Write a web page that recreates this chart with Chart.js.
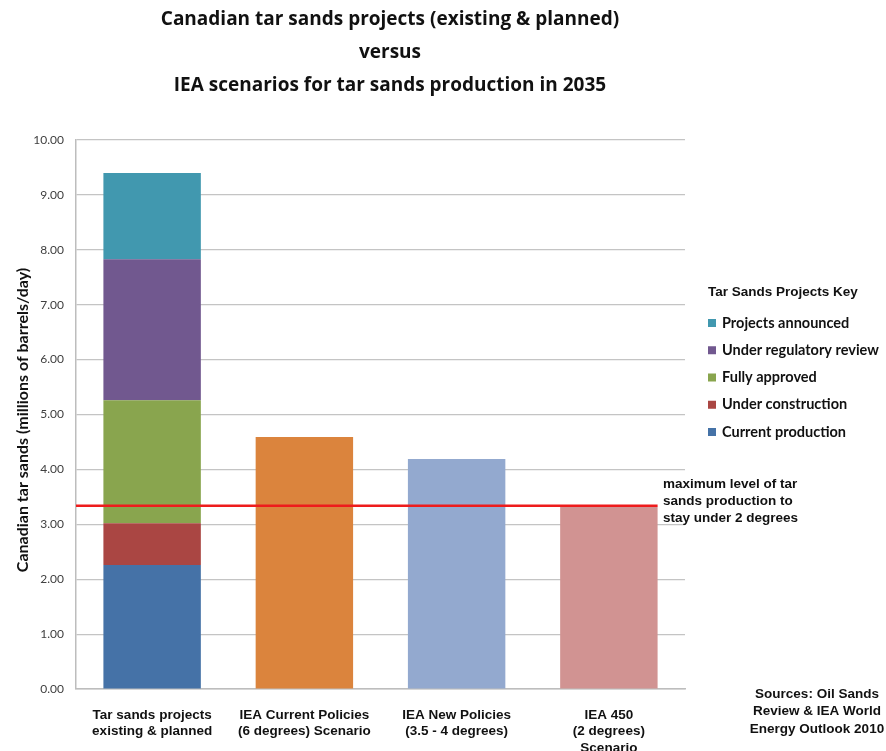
<!DOCTYPE html>
<html>
<head>
<meta charset="utf-8">
<script src="https://cdn.jsdelivr.net/npm/chart.js@4"></script>
<style>
  html, body { margin: 0; padding: 0; background: #fff; }
  #wrap { width: 886px; height: 751px; position: relative; }
</style>
</head>
<body>
<div id="wrap"><canvas id="chart"></canvas></div>
<script>
const categories = [
  ['Tar sands projects', 'existing & planned'],
  ['IEA Current Policies', '(6 degrees) Scenario'],
  ['IEA New Policies', '(3.5 - 4 degrees)'],
  ['IEA 450', '(2 degrees)', 'Scenario']
];

// stacked pieces of the first bar, bottom to top
const segmentNames = ['Current production', 'Under construction', 'Fully approved', 'Under regulatory review', 'Projects announced'];
const segmentValues = [2.26, 0.76, 2.24, 2.57, 1.57];
const segmentColors = ['#4572A7', '#AA4643', '#89A54E', '#71588F', '#4198AF'];

// IEA 2035 scenarios
const scenarioValues = [null, 4.59, 4.19, 3.32];
const scenarioColors = ['#ffffff', '#DB843D', '#93A9CF', '#D19392'];

const twoDegreeLimit = 3.34;
const yTicks = [0, 1, 2, 3, 4, 5, 6, 7, 8, 9, 10];

const titleLines = [
  'Canadian tar sands projects (existing & planned)',
  'versus',
  'IEA scenarios for tar sands production in 2035'
];
const limitNote = ['maximum level of tar', 'sands production to', 'stay under 2 degrees'];
const sourceNote = ['Sources: Oil Sands', 'Review & IEA World', 'Energy Outlook 2010'];

const datasets = segmentNames.map((name, i) => ({
  label: name,
  data: [segmentValues[i], null, null, null],
  backgroundColor: segmentColors[i]
}));
datasets.push({
  label: 'Scenario',
  data: scenarioValues,
  backgroundColor: scenarioColors
});

const extras = {
  id: 'extras',
  afterDatasetsDraw(chart) {
    const ctx = chart.ctx;
    const area = chart.chartArea;
    const y = chart.scales.y;

    // 2 degree limit line
    const lastBar = chart.getDatasetMeta(datasets.length - 1).data[3];
    const ly = y.getPixelForValue(twoDegreeLimit);
    ctx.save();
    ctx.strokeStyle = '#ee1c1c';
    ctx.lineWidth = 2.5;
    ctx.beginPath();
    ctx.moveTo(area.left, ly);
    ctx.lineTo(lastBar.x + lastBar.width / 2, ly);
    ctx.stroke();
    ctx.restore();
  },
  afterDraw(chart) {
    const ctx = chart.ctx;
    ctx.save();
    ctx.fillStyle = '#111';
    ctx.textBaseline = 'middle';

    // title
    ctx.textAlign = 'center';
    ctx.font = 'bold 19px "Open Sans"';
    ctx.fillText(titleLines[0], 390, 20);
    ctx.fillText(titleLines[1], 390, 53);
    ctx.fillText(titleLines[2], 390, 86);

    // y axis title
    ctx.save();
    ctx.translate(23, 420);
    ctx.rotate(-Math.PI / 2);
    ctx.font = 'bold 16px Lato';
    ctx.fillText('Canadian tar sands (millions of barrels/day)', 0, 0);
    ctx.restore();

    // legend
    ctx.textAlign = 'left';
    ctx.font = 'bold 13.5px "Liberation Sans"';
    ctx.fillText('Tar Sands Projects Key', 708, 292);
    ctx.font = 'bold 14.5px Lato';
    for (let i = segmentNames.length - 1, row = 0; i >= 0; i--, row++) {
      const ry = 323 + row * 27.25;
      ctx.fillStyle = segmentColors[i];
      ctx.fillRect(708, ry - 4, 8, 8);
      ctx.fillStyle = '#111';
      ctx.fillText(segmentNames[i], 722, ry);
    }

    // limit note
    ctx.font = 'bold 13.5px "Liberation Sans"';
    limitNote.forEach((t, i) => ctx.fillText(t, 663, 484 + i * 17));

    // sources
    ctx.textAlign = 'center';
    sourceNote.forEach((t, i) => ctx.fillText(t, 817, 694 + i * 17.5));
    ctx.restore();
  }
};

new Chart(document.getElementById('chart'), {
  type: 'bar',
  data: { labels: categories, datasets: datasets },
  options: {
    responsive: true,
    maintainAspectRatio: false,
    animation: false,
    layout: { padding: { left: 0, right: 201, top: 140, bottom: 0 } },
    datasets: { bar: { categoryPercentage: 0.64, barPercentage: 1 } },
    plugins: { legend: { display: false }, tooltip: { enabled: false } },
    scales: {
      x: {
        stacked: true,
        grid: { display: false, drawTicks: false },
        border: { color: '#bdbdbd', width: 1.5 },
        ticks: {
          color: '#111',
          padding: 18,
          maxRotation: 0,
          font: { family: 'Liberation Sans', weight: 'bold', size: 13.5, lineHeight: 1.22 }
        },
        afterFit(scale) { scale.height = 62; }
      },
      y: {
        stacked: true,
        min: 0,
        max: 10,
        afterBuildTicks(scale) { scale.ticks = yTicks.map(v => ({ value: v })); },
        grid: { color: '#c4c4c4', lineWidth: 1.2, drawTicks: false },
        border: { color: '#bdbdbd', width: 1.5 },
        ticks: {
          color: '#404040',
          padding: 12,
          font: { family: 'Lato', size: 12 },
          callback: v => v.toFixed(2)
        },
        afterFit(scale) { scale.width = 76; }
      }
    }
  },
  plugins: [extras]
});
</script>
</body>
</html>
